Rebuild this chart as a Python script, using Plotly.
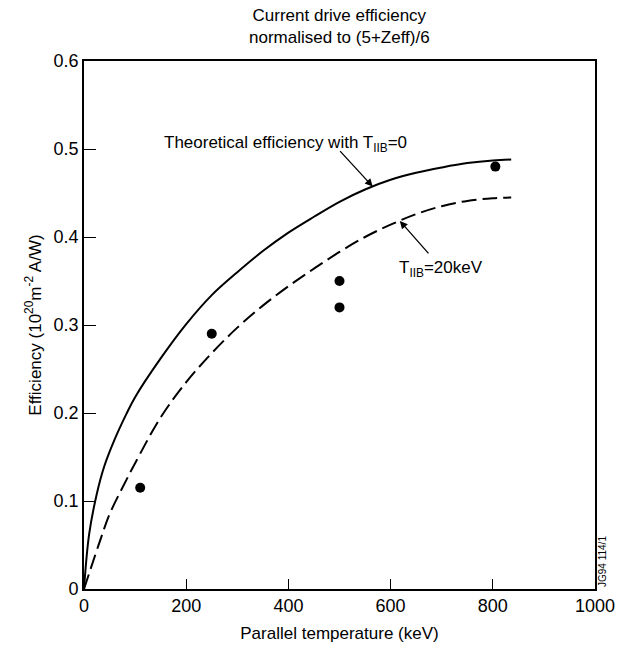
import numpy as np
import plotly.graph_objects as go

# Theoretical efficiency with T_IIB = 0 (solid)
solid_x = [0, 10, 25, 40, 60, 83, 100, 150, 200, 250, 300, 350, 400, 450, 500, 550, 600, 650, 700, 750, 800, 836]
solid_y = [0, 0.062, 0.108, 0.140, 0.170, 0.199, 0.218, 0.262, 0.301, 0.334, 0.360, 0.384, 0.405, 0.423,
           0.440, 0.454, 0.465, 0.473, 0.479, 0.484, 0.487, 0.488]

# T_IIB = 20 keV (dashed)
dash_x = [0, 35, 50, 83, 100, 150, 200, 250, 300, 350, 400, 450, 500, 550, 600, 650, 700, 750, 800, 836]
dash_y = [0, 0.061, 0.085, 0.124, 0.143, 0.195, 0.235, 0.268, 0.297, 0.322, 0.344, 0.364, 0.383, 0.400,
          0.414, 0.426, 0.435, 0.441, 0.444, 0.445]

# Measured points
pts_x = [110, 250, 500, 500, 805]
pts_y = [0.115, 0.29, 0.35, 0.32, 0.48]

x_ticks = [0, 200, 400, 600, 800, 1000]
y_ticks = [0, 0.1, 0.2, 0.3, 0.4, 0.5, 0.6]
y_ticklabels = ["0", "0.1", "0.2", "0.3", "0.4", "0.5", "0.6"]

FONT = "Liberation Sans, Arial, sans-serif"

fig = go.Figure()
fig.add_trace(go.Scatter(x=solid_x, y=solid_y, mode="lines",
                         line=dict(color="black", width=2, shape="spline", smoothing=1.0), showlegend=False))
fig.add_trace(go.Scatter(x=dash_x, y=dash_y, mode="lines",
                         line=dict(color="black", width=2, dash="15px,6px", shape="spline", smoothing=1.0),
                         showlegend=False))
fig.add_trace(go.Scatter(x=pts_x, y=pts_y, mode="markers",
                         marker=dict(color="black", size=10), showlegend=False))

# arrow heads on curves
a1x = 565
a1y = float(np.interp(a1x, solid_x, solid_y))
a2x = 618
a2y = float(np.interp(a2x, dash_x, dash_y))

annotations = [
    dict(x=a1x, y=a1y, xref="x", yref="y", text="", showarrow=True, arrowhead=2, arrowsize=1.2,
         arrowwidth=1.3, arrowcolor="black", ax=-34, ay=-37),
    dict(x=a2x, y=a2y, xref="x", yref="y", text="", showarrow=True, arrowhead=2, arrowsize=1.2,
         arrowwidth=1.3, arrowcolor="black", ax=30, ay=34),
    dict(x=395, y=0.506, xref="x", yref="y", showarrow=False,
         text="Theoretical efficiency with T<sub>IIB</sub>=0", font=dict(size=17, color="black", family=FONT)),
    dict(x=698, y=0.364, xref="x", yref="y", showarrow=False,
         text="T<sub>IIB</sub>=20keV", font=dict(size=17, color="black", family=FONT)),
    dict(x=0.5, y=1, xref="paper", yref="paper", yanchor="bottom", yshift=12, showarrow=False,
         text="Current drive efficiency<br>normalised to (5+Zeff)/6",
         font=dict(size=17, color="black", family=FONT)),
    dict(x=1, y=0, xref="paper", yref="paper", xanchor="left", yanchor="bottom", xshift=0, showarrow=False,
         text="JG94 114/1", textangle=-90, font=dict(size=10, color="black", family=FONT)),
]

fig.update_layout(
    width=627, height=652,
    margin=dict(l=84, r=24, t=61, b=54),
    paper_bgcolor="white", plot_bgcolor="white",
    font=dict(family=FONT, color="black", size=17),
    annotations=annotations,
    xaxis=dict(range=[0, 1000], tickvals=x_ticks, ticktext=[str(v) for v in x_ticks],
               ticks="inside", ticklen=10, tickwidth=1.2, tickcolor="black",
               showline=True, linecolor="black", linewidth=1.6, mirror=True,
               showgrid=False, zeroline=False, tickfont=dict(size=18),
               title=dict(text="Parallel temperature (keV)", font=dict(size=17), standoff=12)),
    yaxis=dict(range=[0, 0.6], tickvals=y_ticks, ticktext=y_ticklabels,
               ticks="inside", ticklen=12, tickwidth=1.2, tickcolor="black",
               showline=True, linecolor="black", linewidth=1.6, mirror=True,
               showgrid=False, zeroline=False, tickfont=dict(size=18),
               title=dict(text="Efficiency (10<sup>20</sup>m<sup>-2</sup> A/W)", font=dict(size=17), standoff=8)),
)

fig.write_html("out.html")
